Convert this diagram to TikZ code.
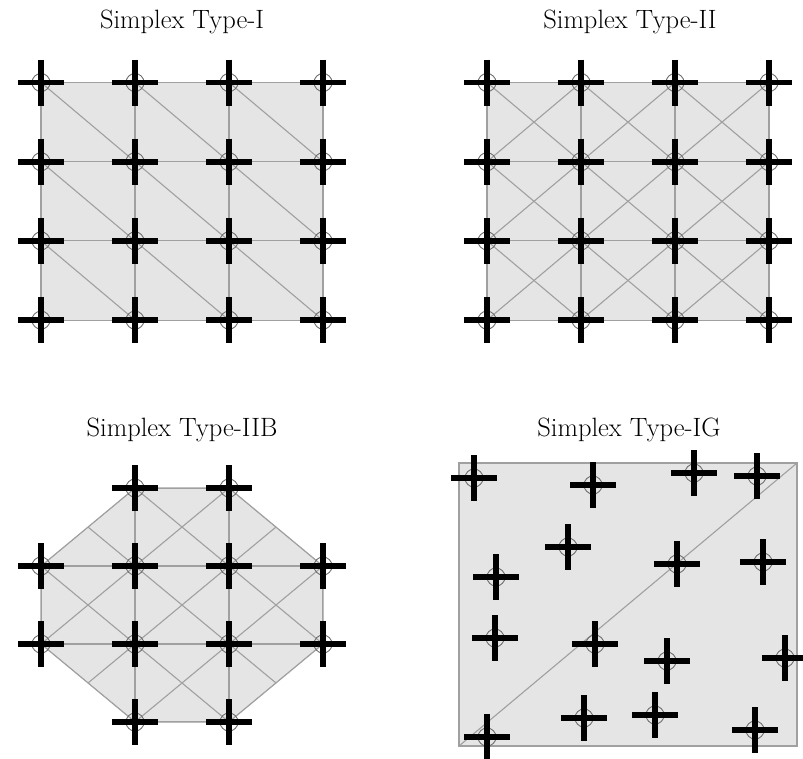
\documentclass[tikz,border=0pt]{standalone}
\usepackage{tikz}
\definecolor{fillg}{RGB}{229,229,229}
\definecolor{lineg}{RGB}{160,160,160}
\definecolor{circg}{RGB}{110,110,110}
\tikzset{
  x=1pt, y=-1pt,
  cell/.style={draw=lineg, line width=1.1pt},
  bar/.style={line width=5.8pt, black},
  ring/.style={draw=circg, line width=0.9pt},
  ttl/.style={font=\fontsize{26.5}{31}\selectfont, anchor=base},
}
\newcommand\pmark[2]{%
  \draw[ring] (#1,#2) circle[radius=9pt];
  \draw[bar] (#1-23,#2) -- (#1+23,#2);
  \draw[bar] (#1,#2-23) -- (#1,#2+23);
}
\begin{document}
\begin{tikzpicture}
\useasboundingbox (0,0) rectangle (803,758);
% titles
\node[ttl] (t1) at (182,28) {Simplex Type-I};
\node[ttl] (t2) at (630,28) {Simplex Type-II};
\node[ttl] (t3) at (182,436) {Simplex Type-IIB};
\node[ttl] (t4) at (629,436) {Simplex Type-IG};
% ---------- Type I
\fill[fillg] (41,82.5) rectangle (323,320);
\foreach \i in {0,1,2,3} {
  \draw[cell] ({41+94*\i},82.5) -- ({41+94*\i},320);
  \draw[cell] (41,{82.5+79.2*\i}) -- (323,{82.5+79.2*\i});
}
\foreach \i in {0,1,2} \foreach \j in {0,1,2}
  \draw[cell] ({41+94*\i},{82.5+79.2*\j}) -- ({41+94*(\i+1)},{82.5+79.2*(\j+1)});
\foreach \i in {0,1,2,3} \foreach \j in {0,1,2,3}
  {\pmark{41+94*\i}{82.5+79.2*\j}}
% ---------- Type II
\fill[fillg] (487,82.5) rectangle (769,320);
\foreach \i in {0,1,2,3} {
  \draw[cell] ({487+94*\i},82.5) -- ({487+94*\i},320);
  \draw[cell] (487,{82.5+79.2*\i}) -- (769,{82.5+79.2*\i});
}
\foreach \i in {0,1,2} \foreach \j in {0,1,2} {
  \draw[cell] ({487+94*\i},{82.5+79.2*\j}) -- ({487+94*(\i+1)},{82.5+79.2*(\j+1)});
  \draw[cell] ({487+94*\i},{82.5+79.2*(\j+1)}) -- ({487+94*(\i+1)},{82.5+79.2*\j});
}
\foreach \i in {0,1,2,3} \foreach \j in {0,1,2,3}
  {\pmark{487+94*\i}{82.5+79.2*\j}}
% ---------- Type IIB
\fill[fillg] (135,488) -- (229,488) -- (323,566) -- (323,644) -- (229,722)
  -- (135,722) -- (41,644) -- (41,566) -- cycle;
\begin{scope}
\clip (135,488) -- (229,488) -- (323,566) -- (323,644) -- (229,722)
  -- (135,722) -- (41,644) -- (41,566) -- cycle;
\foreach \i in {0,1,2,3} {
  \draw[cell] ({41+94*\i},488) -- ({41+94*\i},722);
  \draw[cell] (41,{488+78*\i}) -- (323,{488+78*\i});
}
\foreach \i in {0,1,2} \foreach \j in {0,1,2} {
  \draw[cell] ({41+94*\i},{488+78*\j}) -- ({41+94*(\i+1)},{488+78*(\j+1)});
  \draw[cell] ({41+94*\i},{488+78*(\j+1)}) -- ({41+94*(\i+1)},{488+78*\j});
}
\end{scope}
\draw[cell] (135,488) -- (229,488) -- (323,566) -- (323,644) -- (229,722)
  -- (135,722) -- (41,644) -- (41,566) -- cycle;
\foreach \i/\j in {1/0,2/0,0/1,1/1,2/1,3/1,0/2,1/2,2/2,3/2,1/3,2/3}
  {\pmark{41+94*\i}{488+78*\j}}
% ---------- Type IG
\fill[fillg] (459,463) rectangle (797,746);
\draw[cell] (459,463) rectangle (797,746);
\draw[cell] (459,746) -- (797,463);
\foreach \x/\y in {474/478,593/485,568/547,496/577,694/473,757/476,677/564,763/562,
  495/638,595/644,487/737,584/718,667/661,785/658,655/715,755/730}
  {\pmark{\x}{\y}}
\end{tikzpicture}
\end{document}
